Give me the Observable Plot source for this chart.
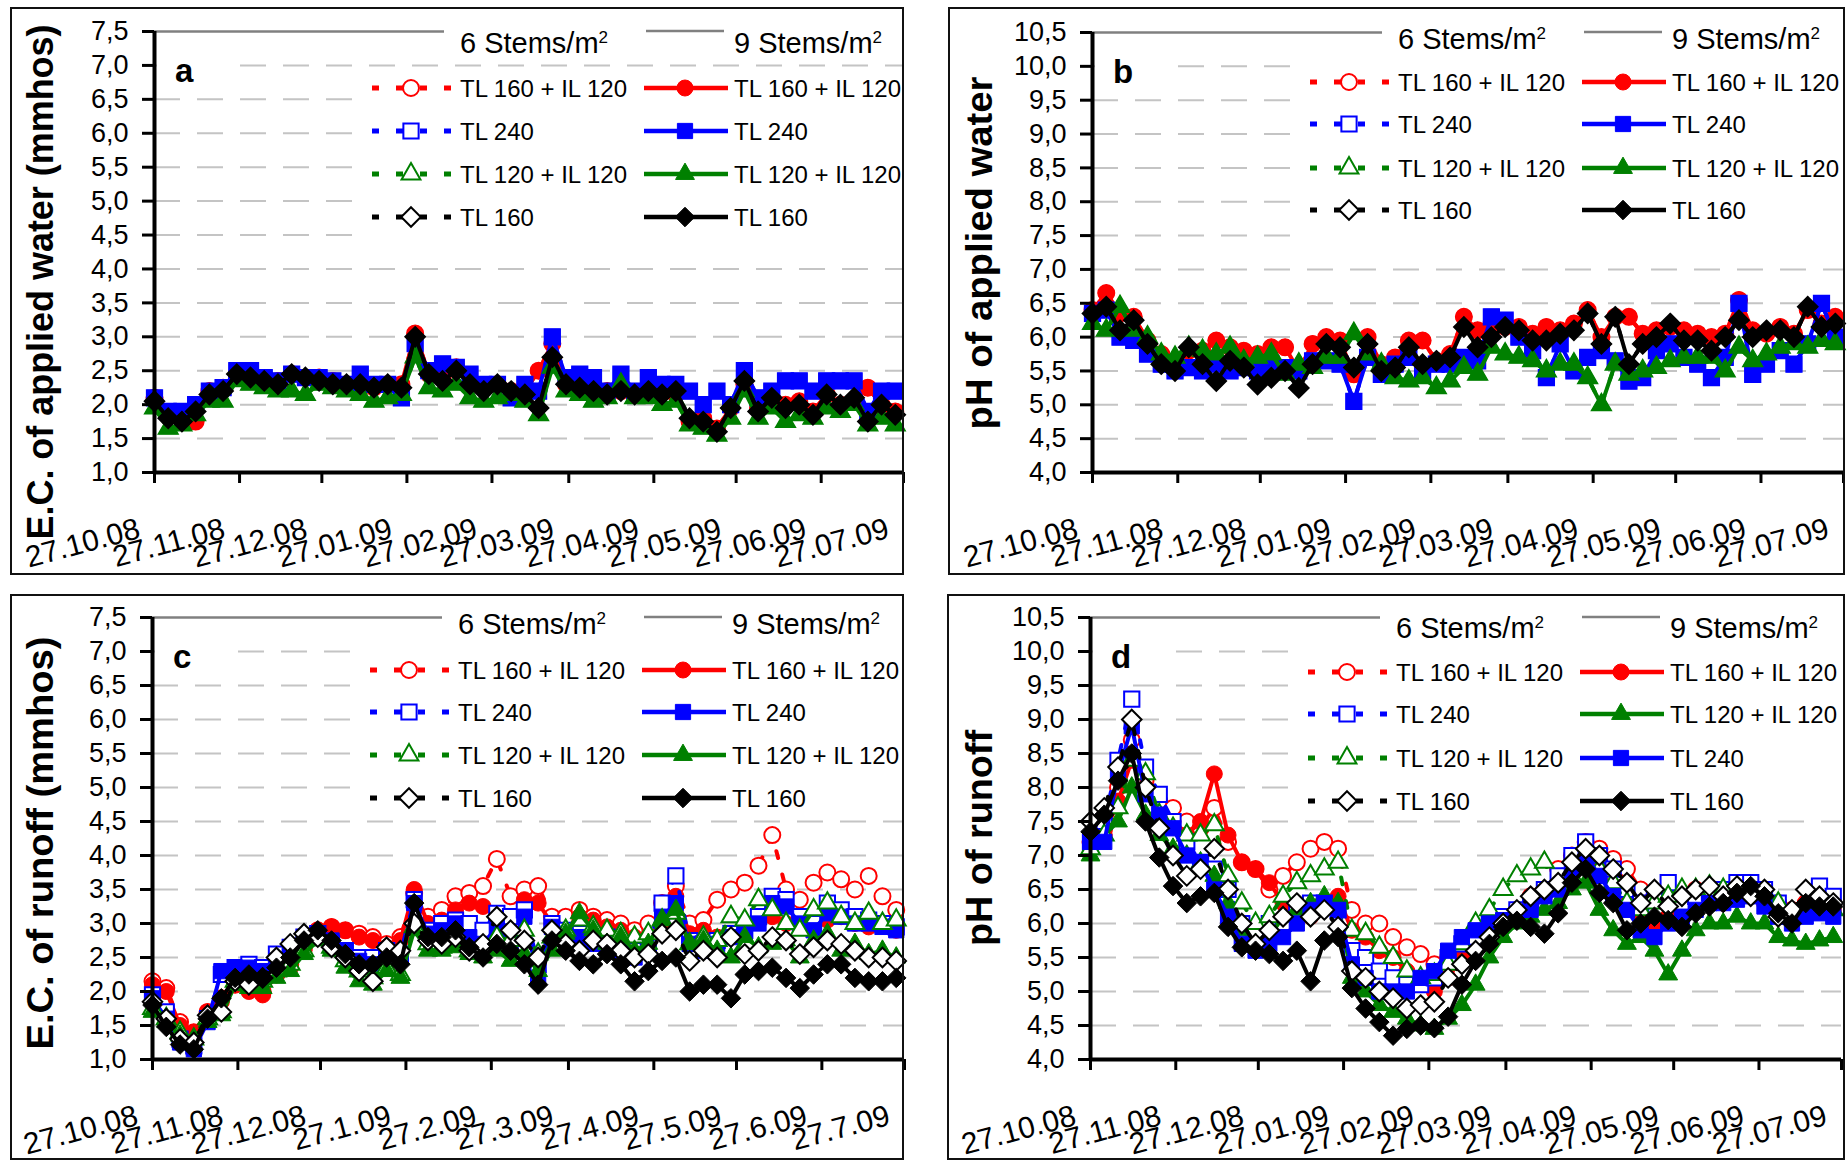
<!DOCTYPE html>
<html><head><meta charset="utf-8">
<script src="https://cdn.jsdelivr.net/npm/d3@7"></script>
<script src="https://cdn.jsdelivr.net/npm/@observablehq/plot@0.6"></script>
<style>
html,body{margin:0;padding:0;background:#fff;}
#root{position:relative;width:1847px;height:1160px;overflow:hidden;background:#fff;}
.panel{position:absolute;}
</style></head><body><div id="root"></div>
<script>
const FONT = "'Liberation Sans', Arial, Helvetica, sans-serif";

// sampling dates (every 5 days)
const dates = ["2008-10-27","2008-11-01","2008-11-06","2008-11-11","2008-11-16","2008-11-21","2008-11-26","2008-12-01","2008-12-06","2008-12-11",
"2008-12-16","2008-12-21","2008-12-26","2008-12-31","2009-01-05","2009-01-10","2009-01-15","2009-01-20","2009-01-25","2009-01-30",
"2009-02-04","2009-02-09","2009-02-14","2009-02-19","2009-02-24","2009-03-01","2009-03-06","2009-03-11","2009-03-16","2009-03-21",
"2009-03-26","2009-03-31","2009-04-05","2009-04-10","2009-04-15","2009-04-20","2009-04-25","2009-04-30","2009-05-05","2009-05-10",
"2009-05-15","2009-05-20","2009-05-25","2009-05-30","2009-06-04","2009-06-09","2009-06-14","2009-06-19","2009-06-24","2009-06-29",
"2009-07-04","2009-07-09","2009-07-14","2009-07-19","2009-07-24"];
const monthTicks = ["2008-10-27","2008-11-27","2008-12-27","2009-01-27","2009-02-27","2009-03-27","2009-04-27","2009-05-27","2009-06-27","2009-07-27"];
const monthLabels = ["27.10.08","27.11.08","27.12.08","27.01.09","27.02.09","27.03.09","27.04.09","27.05.09","27.06.09","27.07.09"];
const monthLabelsC = ["27.10.08","27.11.08","27.12.08","27.1.09","27.2.09","27.3.09","27.4.09","27.5.09","27.6.09","27.7.09"];
const ecTicks = [1.0,1.5,2.0,2.5,3.0,3.5,4.0,4.5,5.0,5.5,6.0,6.5,7.0,7.5];
const phTicks = [4.0,4.5,5.0,5.5,6.0,6.5,7.0,7.5,8.0,8.5,9.0,9.5,10.0,10.5];
const treatments = ["TL 160 + IL 120","TL 240","TL 120 + IL 120","TL 160"];
const densities = ["6 Stems/m","9 Stems/m"];

// (a) E.C. of applied water
const ecApp_TL160IL120 = [2.1,1.85,1.8,1.75,2.2,2.25,2.45,2.4,2.35,2.35, 2.45,2.4,2.4,2.35,2.3,2.3,2.25,2.3,2.3,3.05, 2.45,2.4,2.55,2.3,2.25,2.3,2.2,2.2,2.5,2.9, 2.3,2.25,2.2,2.2,2.2,2.15,2.2,2.2,2.15,1.75, 1.8,1.65,1.95,2.3,1.95,2.1,2.0,2.05,1.9,2.15, 2.0,2.05,2.25,2.0,1.9];
const ecApp_TL240 = [2.1,1.9,1.9,2.0,2.2,2.25,2.5,2.5,2.4,2.35, 2.45,2.4,2.4,2.35,2.3,2.45,2.3,2.3,2.1,2.9, 2.5,2.6,2.55,2.45,2.3,2.3,2.1,2.3,2.2,3.0, 2.4,2.45,2.4,2.2,2.45,2.2,2.4,2.3,2.3,2.2, 2.0,2.2,2.0,2.5,2.1,2.2,2.35,2.35,2.2,2.35, 2.35,2.35,1.9,2.2,2.2];
const ecApp_TL120IL120 = [1.95,1.65,1.7,1.85,2.05,2.05,2.35,2.3,2.25,2.2, 2.2,2.15,2.3,2.25,2.2,2.15,2.05,2.1,2.15,2.7, 2.25,2.2,2.3,2.1,2.05,2.1,2.15,2.05,1.85,2.55, 2.2,2.15,2.05,2.1,2.3,2.1,2.1,2.0,2.05,1.7, 1.65,1.55,1.8,2.2,1.8,1.95,1.75,1.85,1.8,1.95, 1.9,2.0,1.7,1.8,1.7];
const ecApp_TL160 = [2.05,1.8,1.75,1.9,2.15,2.2,2.45,2.4,2.35,2.3, 2.45,2.4,2.35,2.3,2.3,2.3,2.25,2.3,2.25,3.0, 2.45,2.35,2.5,2.3,2.2,2.3,2.2,2.15,1.95,2.7, 2.3,2.25,2.2,2.15,2.2,2.15,2.2,2.15,2.2,1.8, 1.75,1.6,1.95,2.35,1.9,2.1,1.95,2.0,1.85,2.15, 2.0,2.1,1.75,2.0,1.85];

// (b) pH of applied water
const phApp_TL160IL120 = [6.4,6.65,6.35,6.3,5.95,5.75,5.6,5.8,5.8,5.95, 5.85,5.8,5.75,5.85,5.85,5.5,5.9,6.0,5.95,5.45, 6.0,5.6,5.7,5.95,5.95,5.65,5.75,6.3,6.1,6.2, 6.15,6.15,6.05,6.15,6.1,6.2,6.4,6.0,6.3,6.3, 6.05,6.1,6.15,6.1,6.05,6.0,6.05,6.55,6.1,6.05, 6.15,6.05,6.4,6.2,6.3];
const phApp_TL240 = [6.35,6.4,6.0,5.95,5.75,5.6,5.5,5.55,5.5,5.6, 5.5,5.55,5.5,5.6,5.55,5.5,5.65,5.65,5.6,5.05, 5.7,5.45,5.6,5.7,5.5,5.6,5.6,5.7,5.65,6.3, 6.25,6.0,5.8,5.4,5.9,5.5,5.7,5.8,5.65,5.35, 5.4,5.8,5.9,5.7,5.6,5.4,5.7,6.5,5.45,5.6, 5.8,5.6,5.9,6.5,6.0];
const phApp_TL120IL120 = [6.2,6.1,6.45,6.1,6.0,5.75,5.7,5.85,5.8,5.75, 5.85,5.65,5.7,5.75,5.45,5.6,5.55,5.7,5.7,6.05, 5.75,5.6,5.4,5.35,5.4,5.25,5.35,5.55,5.45,5.85, 5.75,5.7,5.65,5.5,5.6,5.6,5.4,5.0,5.6,5.45, 5.5,5.55,5.65,5.7,5.7,5.7,5.5,5.85,5.65,5.75, 5.85,5.9,5.85,5.95,5.9];
const phApp_TL160 = [6.35,6.45,6.1,6.25,5.9,5.6,5.5,5.85,5.6,5.35, 5.65,5.55,5.3,5.4,5.5,5.25,5.6,5.9,5.85,5.55, 5.9,5.5,5.55,5.85,5.6,5.65,5.7,6.15,5.85,6.0, 6.15,6.1,5.95,5.95,6.05,6.1,6.35,5.9,6.3,5.6, 5.9,6.0,6.2,5.95,5.95,5.8,6.0,6.25,6.0,6.1, 6.1,6.0,6.45,6.15,6.2];

// (c) E.C. of runoff
const ecRo6_TL160IL120 = [2.15,2.05,1.55,1.4,1.7,1.9,2.1,2.05,2.0,2.25, 2.4,2.65,2.9,2.95,2.9,2.85,2.8,2.7,2.8,3.45, 3.1,3.2,3.4,3.45,3.55,3.95,3.4,3.5,3.55,3.1, 3.1,3.2,3.1,3.05,3.0,2.9,3.0,3.3,3.55,3.0, 3.05,3.35,3.5,3.6,3.85,4.3,3.5,3.35,3.6,3.75, 3.65,3.5,3.7,3.4,3.2];
const ecRo9_TL160IL120 = [2.1,2.0,1.5,1.4,1.7,1.85,2.1,2.0,1.95,2.25, 2.35,2.6,2.9,2.95,2.9,2.8,2.75,2.65,2.75,3.5, 3.0,3.05,3.2,3.3,3.25,3.1,3.05,3.35,3.3,3.0, 2.9,3.1,3.05,2.95,2.9,2.8,2.75,3.0,3.4,2.85, 2.9,2.8,2.85,3.0,3.05,3.1,3.0,3.1,3.0,3.05, 3.1,3.0,2.95,3.0,2.9];
const ecRo6_TL240 = [1.95,1.7,1.3,1.2,1.6,2.25,2.35,2.4,2.35,2.55, 2.65,2.8,2.85,2.7,2.6,2.5,2.5,2.6,2.55,3.35, 2.9,3.0,3.05,3.0,2.9,3.15,3.1,3.2,2.4,3.0, 2.9,2.85,2.75,2.8,2.7,2.6,2.7,3.3,3.7,2.75, 2.7,2.75,2.85,2.9,3.1,3.4,3.35,3.1,3.0,3.3, 3.2,3.1,3.05,3.0,2.95];
const ecRo9_TL240 = [1.9,1.6,1.25,1.15,1.55,2.3,2.35,2.35,2.3,2.45, 2.6,2.75,2.85,2.75,2.6,2.45,2.4,2.55,2.5,3.3, 2.85,2.9,3.0,2.8,2.7,2.95,2.7,3.1,2.2,2.95, 2.85,2.8,2.7,2.75,2.6,2.5,2.6,3.1,3.3,2.7, 2.6,2.7,2.8,2.85,3.0,3.3,3.25,3.0,2.9,3.15, 3.1,3.0,3.0,2.95,2.9];
const ecRo6_TL120IL120 = [1.75,1.6,1.4,1.3,1.6,1.7,2.15,2.1,2.15,2.3, 2.4,2.6,2.8,2.65,2.45,2.3,2.2,2.35,2.25,2.95, 2.7,2.65,2.75,2.6,2.65,2.8,2.75,2.9,2.55,2.8, 2.9,3.05,2.95,2.9,2.85,2.8,2.85,3.05,3.15,2.7, 2.8,2.75,3.1,3.05,3.35,3.2,3.0,2.9,3.2,3.3, 3.1,3.0,3.15,3.0,3.05];
const ecRo9_TL120IL120 = [1.7,1.55,1.35,1.3,1.55,1.65,2.1,2.05,2.05,2.2, 2.3,2.55,2.75,2.6,2.35,2.15,2.1,2.3,2.2,2.9, 2.6,2.6,2.65,2.55,2.5,2.6,2.45,2.55,2.3,2.6, 2.85,3.15,2.9,2.7,2.8,2.6,2.7,3.05,3.2,2.7, 2.75,2.6,2.5,2.8,2.65,2.7,2.75,2.5,2.75,2.85, 2.6,2.7,2.55,2.6,2.5];
const ecRo6_TL160 = [1.85,1.6,1.3,1.25,1.65,1.7,2.15,2.1,2.2,2.5, 2.7,2.85,2.8,2.65,2.5,2.3,2.15,2.65,2.6,3.0, 2.75,2.7,2.8,2.6,2.7,3.1,2.9,2.75,2.5,2.9, 2.7,2.6,2.75,2.7,2.6,2.5,2.55,2.85,2.9,2.45, 2.6,2.5,2.8,2.55,2.6,2.8,2.75,2.55,2.65,2.75, 2.7,2.6,2.5,2.5,2.45];
const ecRo9_TL160 = [1.8,1.48,1.22,1.15,1.6,1.9,2.2,2.25,2.2,2.35, 2.5,2.75,2.9,2.75,2.55,2.4,2.4,2.5,2.4,3.3, 2.8,2.8,2.9,2.65,2.5,2.7,2.6,2.4,2.1,2.75, 2.6,2.45,2.4,2.55,2.4,2.15,2.3,2.45,2.5,2.0, 2.1,2.1,1.9,2.25,2.3,2.35,2.2,2.05,2.25,2.4, 2.4,2.2,2.15,2.15,2.2];

// (d) pH of runoff
const phRo6_TL160IL120 = [7.2,7.4,8.0,8.7,8.1,7.8,7.7,7.5,7.4,7.7, 7.2,6.9,6.8,6.5,6.7,6.9,7.1,7.2,7.1,6.2, 6.0,6.0,5.8,5.65,5.55,5.4,5.5,5.6,5.8,5.9, 6.0,6.2,6.4,6.5,6.8,7.0,7.2,7.1,6.95,6.8, 6.5,6.4,6.5,6.4,6.5,6.5,6.45,6.5,6.55,6.4, 6.3,6.2,6.3,6.4,6.3];
const phRo9_TL160IL120 = [7.3,7.3,7.8,8.4,8.0,7.6,7.5,7.3,7.5,8.2, 7.3,6.9,6.8,6.6,6.3,6.1,6.1,6.3,6.4,5.9, 5.8,5.6,5.5,5.3,5.2,5.0,5.2,5.5,5.7,5.95, 6.0,6.1,6.3,6.4,6.5,6.9,7.1,6.8,6.5,6.3, 6.1,6.0,6.1,6.2,6.3,6.35,6.3,6.45,6.45,6.3, 6.15,6.05,6.15,6.3,6.2];
const phRo6_TL240 = [7.2,7.5,8.4,9.3,8.3,7.9,7.5,7.2,6.9,6.8, 6.5,6.0,5.9,6.0,6.0,6.2,6.3,6.3,6.2,5.6, 5.5,5.3,5.2,5.1,5.1,5.2,5.5,5.7,5.8,6.0, 6.1,6.2,6.3,6.5,6.7,7.0,7.2,7.0,6.8,6.5, 6.3,6.4,6.6,6.3,6.4,6.45,6.5,6.6,6.6,6.5, 6.3,6.15,6.2,6.55,6.4];
const phRo9_TL240 = [7.2,7.2,8.2,8.9,7.9,7.6,7.4,7.0,6.9,6.5, 6.1,5.7,5.6,5.7,5.8,6.0,6.2,6.3,6.2,5.4, 5.2,5.0,5.0,5.0,5.2,5.3,5.6,5.8,5.9,6.0, 6.05,6.1,6.2,6.4,6.5,6.8,7.0,6.7,6.4,6.2, 5.9,5.8,6.0,6.1,6.2,6.3,6.3,6.35,6.4,6.25, 6.1,6.0,6.1,6.15,6.1];
const phRo6_TL120IL120 = [7.1,7.3,7.7,8.4,8.2,7.6,7.4,7.3,7.3,7.45, 6.7,6.3,6.0,6.1,6.4,6.6,6.7,6.8,6.9,5.9, 5.85,5.65,5.5,5.3,5.2,5.25,5.4,5.7,6.0,6.2, 6.5,6.7,6.8,6.9,6.5,6.7,7.0,6.8,6.6,6.3, 6.2,6.3,6.4,6.5,6.5,6.55,6.5,6.45,6.5,6.45, 6.3,6.1,6.2,6.3,6.2];
const phRo9_TL120IL120 = [7.0,7.3,7.5,8.0,7.6,7.3,7.1,7.0,6.9,6.7, 6.3,5.9,5.7,5.8,6.1,6.2,6.3,6.4,6.3,5.2, 5.0,4.8,4.7,4.6,4.5,4.45,4.6,4.8,5.1,5.5, 5.8,6.0,6.1,6.2,6.3,6.5,6.6,6.2,5.9,5.7, 5.8,5.6,5.25,5.6,5.9,6.0,6.0,6.1,6.0,6.0, 5.8,5.75,5.7,5.75,5.8];
const phRo6_TL160 = [7.5,7.7,8.3,9.0,8.0,7.4,7.0,6.7,6.8,7.1, 6.5,6.0,5.7,5.9,6.1,6.3,6.1,6.2,5.95,5.3, 5.2,5.0,4.9,4.75,4.8,4.85,5.2,5.4,5.6,5.8, 6.0,6.2,6.4,6.5,6.6,6.9,7.1,7.0,6.8,6.6, 6.3,6.5,6.25,6.4,6.5,6.55,6.4,6.55,6.4,6.5, 6.1,6.2,6.5,6.4,6.3];
const phRo9_TL160 = [7.35,7.6,8.1,8.5,7.5,6.97,6.55,6.3,6.4,6.45, 5.95,5.65,5.6,5.55,5.45,5.6,5.15,5.75,5.8,5.05, 4.75,4.55,4.35,4.45,4.5,4.46,4.63,5.1,5.45,5.7, 5.95,6.04,5.95,5.85,6.15,6.6,6.8,6.45,6.3,5.9, 6.0,6.1,6.05,5.95,6.15,6.25,6.3,6.45,6.55,6.4, 6.15,6.0,6.3,6.25,6.25];

const STY = {
  "TL 160 + IL 120": {color:"#ff0000", symbol:"circle", d3sym:d3.symbolCircle, r:8},
  "TL 240": {color:"#0000ff", symbol:"square", d3sym:d3.symbolSquare, r:8.6},
  "TL 120 + IL 120": {color:"#008000", symbol:"triangle", d3sym:d3.symbolTriangle, r:7},
  "TL 160": {color:"#000000", symbol:"diamond2", d3sym:d3.symbolDiamond2, r:8.8}
};

const panels = [
  {letter:"a", left:10, top:7, width:894, height:568, ml:144, mr:1, mt:24, mb:103, ydom:[1,7.5], ticks:ecTicks, labels:monthLabels,
   title:"E.C. of applied water (mmhos)", titleX:43, titleY:275, titleLen:515, headerDy:12, rows:[57,100,143,186], boxTop:36, boxBottom:212,
   right:["TL 160 + IL 120","TL 240","TL 120 + IL 120","TL 160"],
   series:[["TL 160 + IL 120",true,ecApp_TL160IL120],["TL 160 + IL 120",false,ecApp_TL160IL120],["TL 240",true,ecApp_TL240],["TL 240",false,ecApp_TL240],
           ["TL 120 + IL 120",true,ecApp_TL120IL120],["TL 120 + IL 120",false,ecApp_TL120IL120],["TL 160",true,ecApp_TL160],["TL 160",false,ecApp_TL160]]},
  {letter:"b", left:948, top:7, width:897, height:568, ml:144, mr:2, mt:25, mb:103, ydom:[4,10.5], ticks:phTicks, labels:monthLabels,
   title:"pH of applied water", titleX:44, titleY:246, titleLen:353, headerDy:7, rows:[50,92,136,178], boxTop:28, boxBottom:205,
   right:["TL 160 + IL 120","TL 240","TL 120 + IL 120","TL 160"],
   series:[["TL 160 + IL 120",true,phApp_TL160IL120],["TL 160 + IL 120",false,phApp_TL160IL120],["TL 240",true,phApp_TL240],["TL 240",false,phApp_TL240],
           ["TL 120 + IL 120",true,phApp_TL120IL120],["TL 120 + IL 120",false,phApp_TL120IL120],["TL 160",true,phApp_TL160],["TL 160",false,phApp_TL160]]},
  {letter:"c", left:10, top:594, width:894, height:566, ml:142, mr:0, mt:23, mb:101, ydom:[1,7.5], ticks:ecTicks, labels:monthLabelsC,
   title:"E.C. of runoff (mmhos)", titleX:43, titleY:249, titleLen:413, headerDy:7, rows:[53,95,138,181], boxTop:28, boxBottom:203,
   right:["TL 160 + IL 120","TL 240","TL 120 + IL 120","TL 160"],
   series:[["TL 160 + IL 120",true,ecRo6_TL160IL120],["TL 160 + IL 120",false,ecRo9_TL160IL120],["TL 240",true,ecRo6_TL240],["TL 240",false,ecRo9_TL240],
           ["TL 120 + IL 120",true,ecRo6_TL120IL120],["TL 120 + IL 120",false,ecRo9_TL120IL120],["TL 160",true,ecRo6_TL160],["TL 160",false,ecRo9_TL160]]},
  {letter:"d", left:947, top:594, width:898, height:566, ml:143, mr:4, mt:23, mb:101, ydom:[4,10.5], ticks:phTicks, labels:monthLabels,
   title:"pH of runoff", titleX:45, titleY:244, titleLen:216, headerDy:11, rows:[55,97,141,184], boxTop:28, boxBottom:200,
   right:["TL 160 + IL 120","TL 120 + IL 120","TL 240","TL 160"],
   series:[["TL 160 + IL 120",true,phRo6_TL160IL120],["TL 160 + IL 120",false,phRo9_TL160IL120],["TL 240",true,phRo6_TL240],["TL 120 + IL 120",false,phRo9_TL120IL120],
           ["TL 120 + IL 120",true,phRo6_TL120IL120],["TL 240",false,phRo9_TL240],["TL 160",true,phRo6_TL160],["TL 160",false,phRo9_TL160]]}
];

const xDomain = [new Date(monthTicks[0]), new Date(monthTicks[monthTicks.length-1])];
const monthDates = monthTicks.map(d => new Date(d));
const fmt = d => d.toFixed(1).replace(".", ",");

function buildPanel(cfg) {
  const marks = [
    Plot.ruleY(cfg.ticks.slice(1, -1), {stroke:"#c4c4c4", strokeWidth:2, strokeDasharray:"26,17"}),
    Plot.ruleY([cfg.ticks[cfg.ticks.length-1]], {stroke:"#808080", strokeWidth:2.5})
  ];
  for (const [tr, open, vals] of cfg.series) {
    const s = STY[tr];
    const data = dates.map((d, i) => ({date:new Date(d), v:vals[i]}));
    marks.push(Plot.line(data, {x:"date", y:"v", stroke:s.color, strokeWidth:4, strokeDasharray: open ? "7,17" : null}));
    marks.push(Plot.dot(data, {x:"date", y:"v", symbol:s.symbol, r:s.r, fill: open ? "white" : s.color, stroke:s.color, strokeWidth: open ? 2 : 1}));
  }
  marks.push(
    Plot.ruleX([xDomain[0]], {stroke:"black", strokeWidth:4}),
    Plot.ruleY([cfg.ydom[0]], {stroke:"black", strokeWidth:4}),
    Plot.axisY({ticks:cfg.ticks, tickSize:12, tickPadding:14, fontSize:27, tickFormat:fmt, strokeWidth:3, label:null}),
    Plot.axisX({ticks:monthDates, tickSize:11, tickFormat:() => "", strokeWidth:3, label:null}),
    Plot.text(monthDates.map((d, i) => ({date:d, label:cfg.labels[i]})), {x:"date", text:"label", frameAnchor:"bottom",
      rotate:-15, textAnchor:"end", lineAnchor:"bottom", dx:-13, dy:65, fontSize:30, fill:"black"})
  );
  const svg = Plot.plot({
    width:cfg.width, height:cfg.height,
    marginLeft:cfg.ml, marginRight:cfg.mr, marginTop:cfg.mt, marginBottom:cfg.mb,
    x:{type:"utc", domain:xDomain},
    y:{domain:cfg.ydom},
    style:{fontFamily:FONT, background:"white", overflow:"visible", color:"black"},
    marks
  });
  addOverlay(svg, cfg);
  const div = document.createElement("div");
  div.className = "panel";
  div.style.left = cfg.left + "px";
  div.style.top = cfg.top + "px";
  div.appendChild(svg);
  document.getElementById("root").appendChild(div);
}

function legendSymbol(g, tr, open, cx, cy) {
  const s = STY[tr];
  g.append("path").attr("transform", `translate(${cx},${cy})`)
    .attr("d", d3.symbol().type(s.d3sym).size(Math.PI * s.r * s.r)())
    .attr("fill", open ? "white" : s.color).attr("stroke", s.color).attr("stroke-width", open ? 2 : 1);
}

function addOverlay(svg, cfg) {
  const W = cfg.width, H = cfg.height, PL = cfg.ml, PT = cfg.mt;
  const g = d3.select(svg).append("g").attr("font-family", FONT).attr("fill", "black").attr("text-anchor", "start");
  // panel letter
  g.append("rect").attr("x", PL + 3).attr("y", PT + 18).attr("width", 78).attr("height", 32).attr("fill", "white");
  g.append("text").attr("x", PL + 21).attr("y", PT + 51).attr("font-size", 33).attr("font-weight", "bold").text(cfg.letter);
  // header legend
  g.append("rect").attr("x", PL + 290).attr("y", PT - 16).attr("width", W - 2 - (PL + 290)).attr("height", 44).attr("fill", "white");
  g.append("line").attr("x1", PL + 492).attr("x2", PL + 570).attr("y1", PT).attr("y2", PT).attr("stroke", "#808080").attr("stroke-width", 2.5);
  [[306, densities[0]], [580, densities[1]]].forEach(([x, t]) => {
    const tx = g.append("text").attr("x", PL + x).attr("y", PT + cfg.headerDy).attr("dy", "0.36em").attr("font-size", 29);
    tx.append("tspan").text(t);
    tx.append("tspan").attr("dy", "-0.62em").attr("font-size", 17).text("2");
  });
  // entries legend
  g.append("rect").attr("x", PL + 205).attr("y", PT + cfg.boxTop).attr("width", W - 2 - (PL + 205)).attr("height", cfg.boxBottom - cfg.boxTop).attr("fill", "white");
  treatments.forEach((tr, i) => {
    const y = PT + cfg.rows[i];
    const s = STY[tr];
    g.append("line").attr("x1", PL + 218).attr("x2", PL + 298).attr("y1", y).attr("y2", y)
      .attr("stroke", s.color).attr("stroke-width", 5).attr("stroke-dasharray", "7,17");
    legendSymbol(g, tr, true, PL + 257, y);
    g.append("text").attr("x", PL + 306).attr("y", y).attr("dy", "0.36em").attr("font-size", 24).text(tr);
  });
  cfg.right.forEach((tr, i) => {
    const y = PT + cfg.rows[i];
    const s = STY[tr];
    g.append("line").attr("x1", PL + 490).attr("x2", PL + 574).attr("y1", y).attr("y2", y)
      .attr("stroke", s.color).attr("stroke-width", 4.5);
    legendSymbol(g, tr, false, PL + 531, y);
    g.append("text").attr("x", PL + 580).attr("y", y).attr("dy", "0.36em").attr("font-size", 24).text(tr);
  });
  // y title
  g.append("text").attr("transform", `translate(${cfg.titleX},${cfg.titleY}) rotate(-90)`)
    .attr("text-anchor", "middle").attr("font-size", 36).attr("font-weight", "bold")
    .attr("textLength", cfg.titleLen).attr("lengthAdjust", "spacingAndGlyphs").text(cfg.title);
  // frame
  g.append("rect").attr("x", 1).attr("y", 1).attr("width", W - 2).attr("height", H - 2)
    .attr("fill", "none").attr("stroke", "#111").attr("stroke-width", 2);
}

panels.forEach(buildPanel);
</script>
</body></html>
